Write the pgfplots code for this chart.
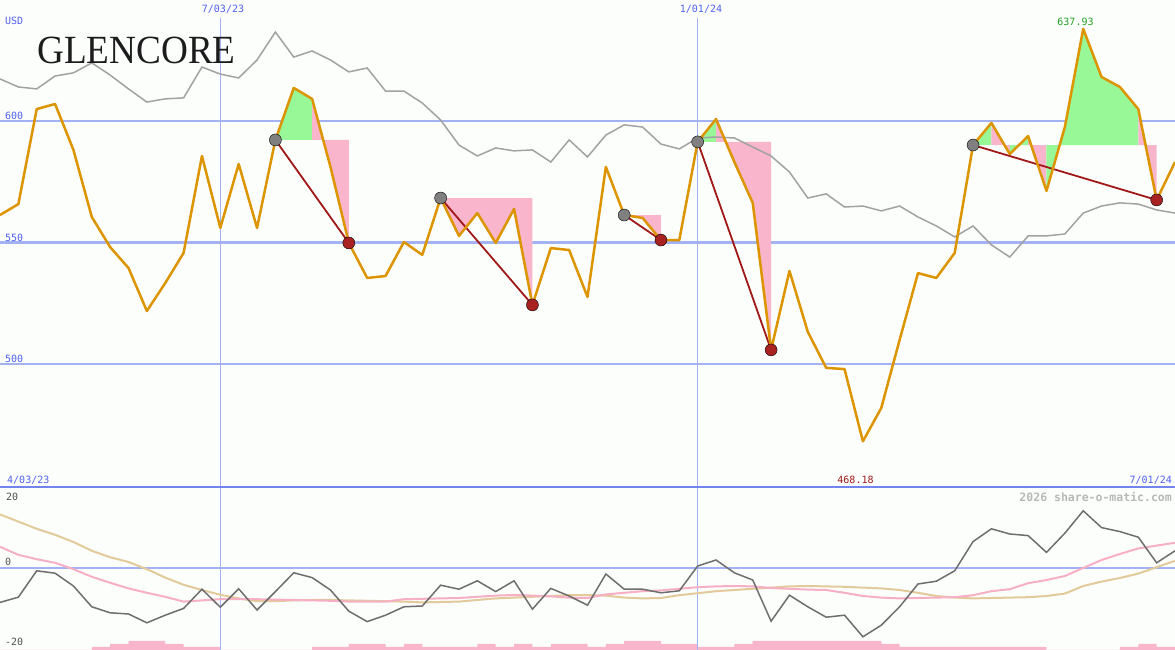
\documentclass[border=0pt]{standalone}
\usepackage{fontspec}
\setmainfont{DejaVu Sans}
\newfontfamily\mono{DejaVu Sans Mono}
\newfontfamily\logo{Liberation Serif}
\usepackage{pgfplots}
\usepackage{pgfplotstable}
\pgfplotsset{compat=1.18}

\definecolor{bgcol}{HTML}{FCFEFC}
\definecolor{gridblue}{HTML}{A3B2F2}
\definecolor{sepblue}{HTML}{7484EE}
\definecolor{lblblue}{HTML}{5062F0}
\definecolor{price}{HTML}{DC9500}
\definecolor{greyline}{HTML}{A2A2A2}
\definecolor{upfill}{HTML}{98F898}
\definecolor{downfill}{HTML}{F9B5CB}
\definecolor{trend}{HTML}{A01818}
\definecolor{enddot}{HTML}{A82222}
\definecolor{startdot}{HTML}{808080}
\definecolor{osc}{HTML}{6E6E6E}
\definecolor{oscpink}{HTML}{F7AFC6}
\definecolor{osctan}{HTML}{E2CA9A}
\definecolor{peakgreen}{HTML}{20A020}
\definecolor{lowred}{HTML}{A01818}
\definecolor{wmark}{HTML}{B8B8B8}
\definecolor{lblgrey}{HTML}{505050}
\definecolor{logocol}{HTML}{1C1C1C}

% weekly close and comparison line
\pgfplotstableread{
i price grey
0 561.3 617.3
1 565.8 614.0
2 604.9 613.2
3 607.0 618.5
4 588.1 619.8
5 560.5 623.9
6 548.1 618.9
7 539.5 613.2
8 521.8 607.8
9 533.3 609.1
10 545.7 609.5
11 585.6 622.2
12 556.0 619.3
13 582.3 617.7
14 556.0 625.1
15 592.2 636.6
16 613.6 626.3
17 609.1 628.8
18 581.1 625.1
19 549.8 620.2
20 535.4 621.8
21 536.2 612.3
22 550.2 612.3
23 544.9 607.4
24 568.3 600.4
25 552.7 590.1
26 562.1 585.6
27 549.8 588.9
28 563.8 587.7
29 524.3 588.1
30 547.7 583.1
31 546.9 592.2
32 527.6 585.2
33 581.1 594.2
34 561.3 598.4
35 560.1 597.5
36 551.0 590.5
37 551.0 588.5
38 591.4 593.0
39 600.8 593.4
40 583.1 593.0
41 566.3 589.3
42 505.8 585.6
43 538.3 579.0
44 513.2 568.3
45 498.4 570.0
46 497.9 564.6
47 468.18 565.0
48 481.9 563.0
49 509.9 565.0
50 537.4 560.5
51 535.4 556.8
52 545.7 552.3
53 590.1 556.8
54 599.2 549.0
55 586.4 544.0
56 593.8 552.7
57 571.2 552.7
58 597.5 553.5
59 637.93 562.1
60 618.1 565.0
61 614.0 566.3
62 604.9 565.8
63 567.5 563.4
64 583.1 562.1
}\weekly

% lower panel oscillators
\pgfplotstableread{
i osc pink tan
0 -8.6 5.3 13.4
1 -7.3 3.3 11.6
2 -0.7 2.2 9.8
3 -1.3 1.3 8.3
4 -4.5 -0.3 6.5
5 -9.7 -2.2 4.3
6 -11.2 -3.7 2.7
7 -11.5 -5.1 1.5
8 -13.7 -6.2 -0.3
9 -11.8 -7.2 -2.4
10 -10.1 -8.4 -4.2
11 -5.3 -8.1 -5.5
12 -9.8 -7.8 -6.7
13 -5.2 -7.8 -7.6
14 -10.5 -7.8 -8.3
15 -5.9 -7.9 -8.3
16 -1.2 -8.0 -8.1
17 -2.4 -8.1 -8.0
18 -5.5 -8.2 -8.0
19 -10.8 -8.4 -8.1
20 -13.4 -8.4 -8.2
21 -11.8 -8.4 -8.3
22 -9.7 -7.8 -8.4
23 -9.5 -7.7 -8.6
24 -4.3 -7.6 -8.5
25 -5.3 -7.5 -8.4
26 -3.2 -7.2 -8.0
27 -5.9 -6.9 -7.6
28 -3.2 -6.75 -7.4
29 -10.3 -6.9 -7.2
30 -5.1 -7.1 -7.0
31 -7.0 -7.4 -6.8
32 -9.3 -7.5 -6.75
33 -1.5 -6.6 -6.9
34 -5.3 -6.2 -7.4
35 -5.3 -5.8 -7.6
36 -6.2 -5.6 -7.5
37 -5.7 -5.2 -6.8
38 0.5 -4.8 -6.3
39 2.0 -4.6 -5.8
40 -1.2 -4.5 -5.5
41 -3.0 -4.6 -5.2
42 -13.3 -5.0 -4.9
43 -6.8 -5.2 -4.6
44 -9.7 -5.4 -4.5
45 -12.3 -5.5 -4.6
46 -11.8 -6.2 -4.7
47 -17.2 -7.0 -4.9
48 -14.3 -7.4 -5.1
49 -9.7 -7.6 -5.5
50 -4.0 -7.5 -6.2
51 -3.3 -7.4 -7.0
52 -0.7 -7.3 -7.4
53 6.6 -6.8 -7.6
54 9.8 -5.8 -7.5
55 8.5 -5.3 -7.4
56 8.1 -3.8 -7.3
57 3.9 -3.0 -7.0
58 8.7 -2.0 -6.4
59 14.3 0.0 -4.5
60 10.1 2.0 -3.4
61 9.1 3.5 -2.5
62 7.7 4.9 -1.4
63 1.3 5.6 0.2
64 4.3 6.3 1.8
}\osc

\begin{document}
\begin{tikzpicture}[x=1pt,y=1pt]
% volume bars, lower panel
\begin{axis}[at={(0pt,0pt)}, anchor=south west, scale only axis,
  width=1175pt, height=163pt, xmin=0, xmax=64, ymin=0, ymax=54.33,
  axis line style={draw=none}, xtick=\empty, ytick=\empty,
  axis background/.style={fill=bgcol}]
  \addplot[const plot, fill=downfill, draw=none] coordinates {
    (0,0) (5,1) (6,2) (7,3) (9,2) (10,1) (12,0) (17,1) (19,2) (21,1)
    (22,2) (23,1) (26,2) (27,1) (28,2) (29,1) (30,2) (32,1) (33,2) (34,3)
    (36,2) (38,1) (40,2) (41,3) (48,2) (49,1) (57,0) (61,1) (62,2) (63,1) (64,1)
  } \closedcycle;
\end{axis}

% oscillators, lower panel
\begin{axis}[at={(0pt,0pt)}, anchor=south west, scale only axis,
  width=1175pt, height=163pt, xmin=0, xmax=64, ymin=-20.5, ymax=20.25,
  axis line style={draw=none}, tick style={draw=none},
  ytick={0}, yticklabels={}, ymajorgrids,
  major grid style={gridblue, line width=2pt},
  xtick=\empty, extra x ticks={12,38}, extra x tick labels={},
  extra x tick style={grid=major, major grid style={gridblue, line width=1.6pt}},
  clip=false]
  \addplot[osctan, line width=2pt] table[x=i, y=tan] {\osc};
  \addplot[oscpink, line width=2pt] table[x=i, y=pink] {\osc};
  \addplot[osc, line width=1.5pt] table[x=i, y=osc] {\osc};
\end{axis}

% price panel
\begin{axis}[at={(0pt,163pt)}, anchor=south west, scale only axis,
  width=1175pt, height=487pt, xmin=0, xmax=64, ymin=449.38, ymax=649.79,
  axis line style={draw=none}, tick style={draw=none},
  ytick={500,550,600}, yticklabels={}, ymajorgrids,
  major grid style={gridblue, line width=2.2pt},
  xtick=\empty, extra x ticks={12,38}, extra x tick labels={},
  extra x tick style={grid=major, major grid style={gridblue, line width=1.6pt}},
  axis background/.style={fill=bgcol}, clip=false]
  % gains and losses against each entry level
  \addplot[fill=upfill, draw=none] coordinates {(15,592.2) (16,613.6) (17,609.1) (17,592.2)} -- cycle;
  \addplot[fill=downfill, draw=none] coordinates {(17,592.2) (17,609.1) (18,581.1) (19,549.8) (19,592.2)} -- cycle;
  \addplot[fill=downfill, draw=none] coordinates {(24,568.3) (25,552.7) (26,562.1) (27,549.8) (28,563.8) (29,524.3) (29,568.3)} -- cycle;
  \addplot[fill=downfill, draw=none] coordinates {(34,561.3) (35,560.1) (36,551.0) (36,561.3)} -- cycle;
  \addplot[fill=upfill, draw=none] coordinates {(38,591.4) (39,600.8) (39,591.4)} -- cycle;
  \addplot[fill=downfill, draw=none] coordinates {(39,591.4) (39,600.8) (40,583.1) (41,566.3) (42,505.8) (42,591.4)} -- cycle;
  \addplot[fill=upfill, draw=none] coordinates {(53,590.1) (54,599.2) (54,590.1)} -- cycle;
  \addplot[fill=downfill, draw=none] coordinates {(54,590.1) (54,599.2) (55,586.4) (55,590.1)} -- cycle;
  \addplot[fill=upfill, draw=none] coordinates {(55,590.1) (55,586.4) (56,593.8) (56,590.1)} -- cycle;
  \addplot[fill=downfill, draw=none] coordinates {(56,590.1) (56,593.8) (57,571.2) (57,590.1)} -- cycle;
  \addplot[fill=upfill, draw=none] coordinates {(57,590.1) (57,571.2) (58,597.5) (59,637.93) (60,618.1) (61,614.0) (62,604.9) (62,590.1)} -- cycle;
  \addplot[fill=downfill, draw=none] coordinates {(62,590.1) (62,604.9) (63,567.5) (63,590.1)} -- cycle;

  \addplot[greyline, line width=1.5pt] table[x=i, y=grey] {\weekly};

  \addplot[trend, line width=1.8pt] coordinates {(15,592.2) (19,549.8)};
  \addplot[trend, line width=1.8pt] coordinates {(24,568.3) (29,524.3)};
  \addplot[trend, line width=1.8pt] coordinates {(34,561.3) (36,551.0)};
  \addplot[trend, line width=1.8pt] coordinates {(38,591.4) (42,505.8)};
  \addplot[trend, line width=1.8pt] coordinates {(53,590.1) (63,567.5)};

  \addplot[only marks, mark=*, mark size=6pt, mark options={fill=startdot, draw=none}]
    coordinates {(15,592.2) (24,568.3) (34,561.3) (38,591.4) (53,590.1)};
  \addplot[only marks, mark=*, mark size=6pt, mark options={fill=enddot, draw=none}]
    coordinates {(19,549.8) (29,524.3) (36,551.0) (42,505.8) (63,567.5)};

  \addplot[price, line width=2.5pt, line join=round] table[x=i, y=price] {\weekly};
\end{axis}

\draw[sepblue, line width=2.5pt] (0,163) -- (1175,163);

% labels
\begin{scope}[every node/.style={inner sep=0pt, font=\mono\fontsize{10}{12}\selectfont}]
  \node[anchor=west, text=lblblue] at (5,629) {USD};
  \node[anchor=base west, text=lblblue] at (5,530.7) {600};
  \node[anchor=base west, text=lblblue] at (5,408.3) {550};
  \node[anchor=base west, text=lblblue] at (5,287.3) {500};
  \node[text=lblblue, fill=bgcol, inner xsep=2pt, inner ysep=4.5pt] at (223,641) {7/03/23};
  \node[text=lblblue, fill=bgcol, inner xsep=2pt, inner ysep=4.5pt] at (701,641) {1/01/24};
  \node[anchor=base west, text=lblblue] at (7,166.5) {4/03/23};
  \node[anchor=base east, text=lblblue] at (1172,166.5) {7/01/24};
  \node[anchor=base, text=lowred] at (855.5,166.5) {468.18};
  \node[anchor=base, text=peakgreen] at (1075.5,624.7) {637.93};
  \node[anchor=north west, text=lblgrey] at (6,157.3) {20};
  \node[anchor=base west, text=lblgrey] at (5,84) {0};
  \node[anchor=base west, text=lblgrey] at (5,4) {-20};
  \node[anchor=north east, text=wmark, font=\mono\bfseries\fontsize{11.5}{13}\selectfont] at (1172,158.3) {2026 share-o-matic.com};
\end{scope}
\node[anchor=base west, inner sep=0pt, text=logocol, font=\logo\fontsize{40}{40}\selectfont] at (37,586.7) {\scalebox{0.93}[1]{GLENCORE}};

\pgfresetboundingbox
\path[use as bounding box] (0,0) rectangle (1175,650);
\end{tikzpicture}
\end{document}
